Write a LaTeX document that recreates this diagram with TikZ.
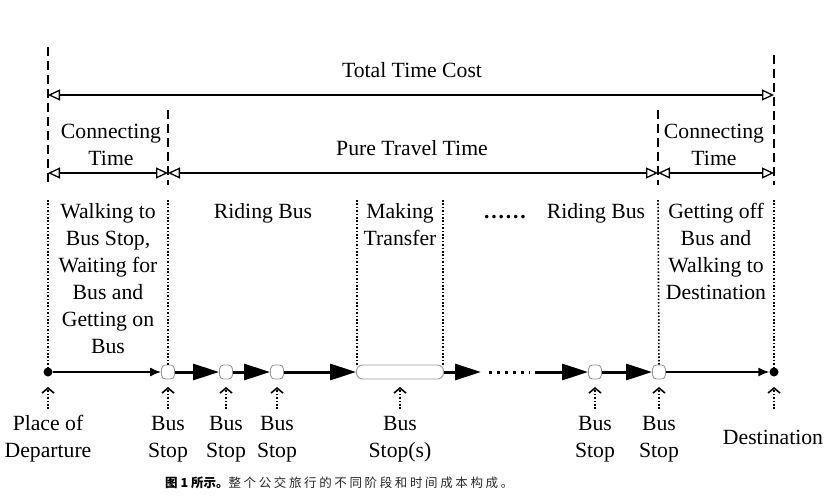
\documentclass[tikz,border=0pt]{standalone}
\usepackage{fontspec}
\setmainfont{Liberation Serif}
\newfontfamily\cjk{Noto Sans CJK SC}
\usetikzlibrary{arrows.meta}
\begin{document}
\begin{tikzpicture}[x=1pt,y=-1pt,
 txt/.style={font=\fontsize{21.7}{27}\selectfont, inner sep=0pt, align=center, anchor=base},
 dashv/.style={line width=1.3pt, dash pattern=on 9pt off 5pt},
 dotv/.style={line width=1.6pt, dash pattern=on 1.6pt off 1.8pt},
 dimarrow/.style={line width=1.3pt, {Triangle[open,length=12pt,width=11pt]}-{Triangle[open,length=12pt,width=11pt]}},
 walkarrow/.style={line width=1.4pt, -{Latex[length=11pt,width=9pt]}},
 ridearrow/.style={line width=3pt, -{Triangle[length=26pt,width=16pt]}},
 stopbox/.style={draw=gray!80, line width=0.9pt, fill=white, rounded corners=4pt, minimum width=13pt, minimum height=14pt, inner sep=0pt},
 enddot/.style={circle, fill=black, minimum size=9pt, inner sep=0pt},
 uparrow/.style={line width=1.5pt, dash pattern=on 1.6pt off 1.8pt, -{Straight Barb[length=5pt,width=12pt,line width=1.6pt]}}
]
\useasboundingbox (0,0) rectangle (837,501);

% ---------- top dimension lines ----------
\coordinate (L0) at (48,47);   \coordinate (L1) at (48,185);
\coordinate (R0) at (774,55);  \coordinate (R1) at (774,185);
\coordinate (A0) at (168,110); \coordinate (A1) at (168,185);
\coordinate (B0) at (658,110); \coordinate (B1) at (658,185);
\draw[dashv] (L0) -- (L1);
\draw[dashv] (R0) -- (R1);
\draw[dashv] (A0) -- (A1);
\draw[dashv] (B0) -- (B1);

\coordinate (tL) at (48,95);  \coordinate (tR) at (774,95);
\coordinate (cL) at (48,173); \coordinate (cA) at (168,173);
\coordinate (cB) at (658,173); \coordinate (cR) at (774,173);
\draw[dimarrow] (tL) -- (tR);
\draw[dimarrow] (cL) -- (cA);
\draw[dimarrow] (cA) -- (cB);
\draw[dimarrow] (cB) -- (cR);

\node[txt] (total) at (412,77) {Total Time Cost};
\node[txt] (conn1) at (111,165) {Connecting\\Time};
\node[txt] (pure) at (412,155) {Pure Travel Time};
\node[txt] (conn2) at (714,165) {Connecting\\Time};

% ---------- bus line ----------
\node[enddot] (dep) at (48,372) {};
\node[stopbox] (s1) at (168,372) {};
\node[stopbox] (s2) at (226,372) {};
\node[stopbox] (s3) at (277,372) {};
\node[stopbox, minimum width=87pt, rounded corners=6pt] (tr) at (400,372) {};
\node[stopbox] (s4) at (595,372) {};
\node[stopbox] (s5) at (659,372) {};
\node[enddot] (dest) at (774,372) {};
\coordinate (e1) at (481,372);
\coordinate (d0) at (489,372);
\coordinate (d1) at (530,372);
\coordinate (e2) at (535,372);

\draw[walkarrow] (dep) -- (s1);
\draw[ridearrow] (s1) -- (s2);
\draw[ridearrow] (s2) -- (s3);
\draw[ridearrow] (s3) -- (tr);
\draw[ridearrow] (tr) -- (e1);
\draw[line width=3pt, dash pattern=on 3pt off 5pt] (d0) -- (d1);
\draw[ridearrow] (e2) -- (s4);
\draw[ridearrow] (s4) -- (s5);
\draw[walkarrow] (s5) -- (dest);

% ---------- dotted phase separators ----------
\coordinate (p0) at (48,200);
\coordinate (p1) at (168,200);
\coordinate (p2) at (357,200);
\coordinate (p3) at (443,200);
\coordinate (p4) at (658,200);
\coordinate (p5) at (774,200);
\coordinate (q2) at (357,366);
\coordinate (q3) at (443,366);
\draw[dotv] (p0) -- (dep);
\draw[dotv] (p1) -- (s1.north);
\draw[dotv] (p2) -- (q2);
\draw[dotv] (p3) -- (q3);
\draw[dotv] (p4) -- (s5.north);
\draw[dotv] (p5) -- (dest);

\node[txt] (ph1) at (108,353) {Walking to\\Bus Stop,\\Waiting for\\Bus and\\Getting on\\Bus};
\node[txt] (ph2) at (263,218) {Riding Bus};
\node[txt] (ph3) at (400,245) {Making\\Transfer};
\node[txt] (ph4) at (505,218) {\textbf{.\kern1.8pt.\kern1.8pt.\kern1.8pt.\kern1.8pt.\kern1.8pt.}};
\node[txt] (ph5) at (596,218) {Riding Bus};
\node[txt] (ph6) at (716,299) {Getting off\\Bus and\\Walking to\\Destination};

% ---------- pointers and labels ----------
\foreach \nm/\xx in {dep/48, s1/168, s2/226, s3/277, tr/400, s4/595, s5/659, dest/774}{
  \coordinate (u0\nm) at (\xx,409);
  \coordinate (u1\nm) at (\xx,387);
  \draw[uparrow] (u0\nm) -- (u1\nm);
}
\node[txt] (ldep) at (48,457) {Place of\\Departure};
\node[txt] (ls1) at (168,457) {Bus\\Stop};
\node[txt] (ls2) at (226,457) {Bus\\Stop};
\node[txt] (ls3) at (277,457) {Bus\\Stop};
\node[txt] (ltr) at (400,457) {Bus\\Stop(s)};
\node[txt] (ls4) at (595,457) {Bus\\Stop};
\node[txt] (ls5) at (659,457) {Bus\\Stop};
\node[txt] (ldest) at (773,444) {Destination};

% ---------- caption ----------
\node[anchor=west, inner sep=0pt, font=\cjk\fontsize{12.5}{14}\selectfont] (cap) at (165,483)
  {{\bfseries 图 1 所示。}{\addfontfeature{LetterSpace=21}\color{black!85}整个公交旅行的不同阶段和时间成本构成。}};
\end{tikzpicture}
\end{document}
